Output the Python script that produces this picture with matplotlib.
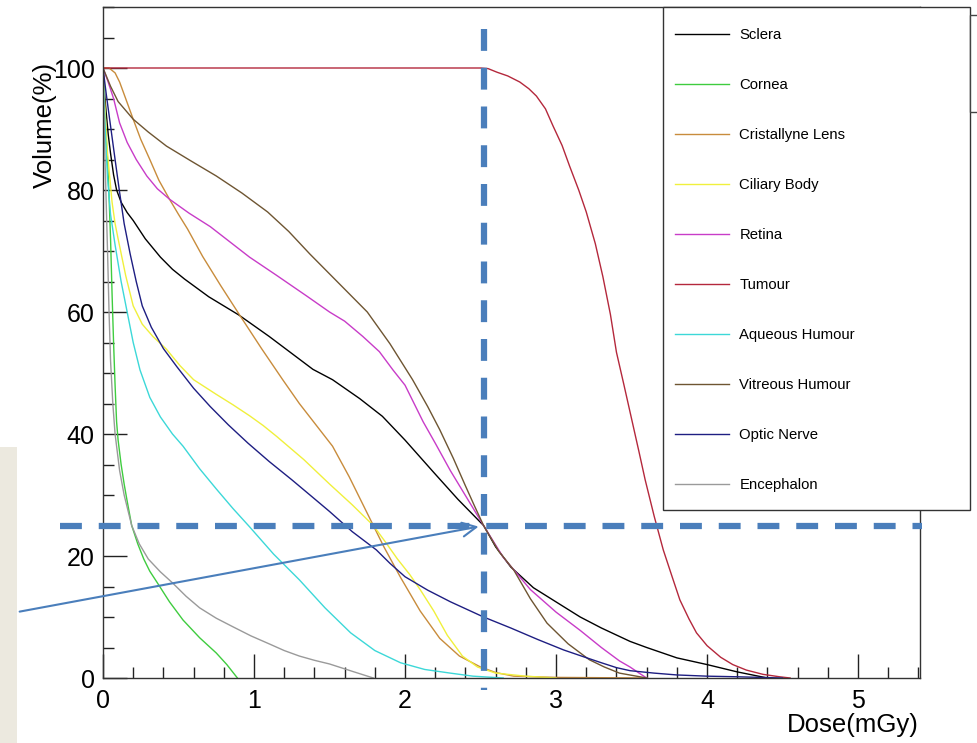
import numpy as np
import matplotlib.pyplot as plt
from matplotlib import ticker
from matplotlib.patches import Rectangle

plt.rcParams['font.family'] = ['Liberation Sans', 'DejaVu Sans']

# dose-volume histogram curves (dose in mGy, volume in %)
sclera_x = [0, 0.01, 0.02, 0.035, 0.05, 0.07, 0.09, 0.12, 0.16, 0.2, 0.28, 0.38, 0.46, 0.54, 0.7, 0.9,
            1.1, 1.39, 1.52, 1.7, 1.85, 2.0, 2.19, 2.35, 2.52, 2.6, 2.7, 2.85, 3.05, 3.16, 3.3, 3.49,
            3.6, 3.8, 4.0, 4.2, 4.4]
sclera_y = [100, 96, 93, 89, 86, 82.5, 80, 78, 76.3, 75, 72, 69, 67, 65.4, 62.5, 59.5,
            56, 50.6, 48.9, 45.8, 42.9, 39, 33.7, 29.3, 25, 21.5, 18.2, 14.8, 11.7, 10, 8.2, 6.0,
            5.0, 3.3, 2.2, 1.0, 0]

cornea_x = [0, 0.01, 0.02, 0.03, 0.04, 0.05, 0.06, 0.07, 0.08, 0.09, 0.1, 0.12, 0.14, 0.16, 0.19,
            0.23, 0.27, 0.31, 0.36, 0.44, 0.53, 0.64, 0.75, 0.82, 0.89]
cornea_y = [100, 93, 89, 85, 79, 72, 63, 55, 48, 42, 39, 35, 31.8, 29, 25,
            22, 19.5, 17.5, 15.6, 12.5, 9.5, 6.6, 4.1, 2.2, 0]

lens_x = [0, 0.04, 0.08, 0.11, 0.15, 0.2, 0.25, 0.31, 0.37, 0.44, 0.5, 0.56, 0.66, 0.78, 0.91,
          1.05, 1.19, 1.3, 1.41, 1.52, 1.63, 1.75, 1.86, 1.97, 2.1, 2.23, 2.36, 2.5, 2.6, 2.72,
          3.0, 3.6]
lens_y = [100, 100, 99.2, 97.7, 95, 91.6, 88.3, 85, 81.6, 78.5, 76, 73.6, 69.1, 64.3, 59.3,
          54, 48.9, 45, 41.5, 38, 33, 27, 21.5, 16.5, 11, 6.5, 3.6, 1.8, 0.9, 0.3,
          0.1, 0]

ciliary_x = [0, 0.01, 0.02, 0.03, 0.045, 0.06, 0.08, 0.1, 0.15, 0.2, 0.26, 0.33, 0.42, 0.51, 0.6,
             0.75, 0.86, 0.97, 1.06, 1.15, 1.33, 1.5, 1.65, 1.79, 1.87, 1.95, 2.03, 2.1, 2.19,
             2.28, 2.38, 2.48, 2.6, 2.8, 3.0]
ciliary_y = [100, 95, 90, 86, 82, 78, 74.5, 72, 66, 61, 58, 56, 53.9, 51.2, 48.9,
             46.5, 44.8, 43, 41.4, 39.6, 35.8, 31.8, 28.4, 25, 22.3, 19.5, 17, 14.5, 11,
             7, 3.6, 1.8, 0.8, 0.3, 0]

retina_x = [0, 0.03, 0.07, 0.11, 0.16, 0.22, 0.29, 0.36, 0.44, 0.57, 0.71, 0.84, 0.97, 1.15, 1.35,
            1.5, 1.6, 1.72, 1.83, 1.92, 2.0, 2.12, 2.2, 2.3, 2.41, 2.52, 2.65, 2.83, 3.0, 3.16,
            3.3, 3.42, 3.49, 3.55, 3.6]
retina_y = [100, 98, 95, 91, 87.8, 85, 82.3, 80.2, 78.5, 76.2, 74, 71.5, 69, 66, 62.6,
            60, 58.5, 56, 53.5, 50.5, 48, 42, 38.5, 34, 29.5, 25, 19.8, 14.5, 10.8, 7.8,
            5, 2.8, 1.8, 0.8, 0]

tumour_x = [0, 2.5, 2.55, 2.61, 2.68, 2.76, 2.82, 2.87, 2.93, 2.98, 3.04, 3.09, 3.15, 3.2, 3.26,
            3.31, 3.36, 3.4, 3.45, 3.5, 3.55, 3.59, 3.65, 3.71, 3.77, 3.82, 3.88, 3.93, 4.0, 4.09,
            4.17, 4.26, 4.37, 4.48, 4.55]
tumour_y = [100, 100, 99.9, 99.3, 98.7, 97.7, 96.6, 95.4, 93.3, 90.5, 87.3, 83.9, 80, 76.4, 71.2,
            65.8, 59.6, 53.4, 48, 42.5, 37, 32.5, 26.5, 21, 16.5, 12.8, 9.7, 7.4, 5.3, 3.4,
            2.2, 1.3, 0.6, 0.2, 0]

aqueous_x = [0, 0.01, 0.02, 0.03, 0.05, 0.08, 0.12, 0.16, 0.2, 0.245, 0.31, 0.38, 0.46, 0.53, 0.64,
             0.75, 0.86, 0.97, 1.13, 1.3, 1.47, 1.64, 1.8, 1.97, 2.13, 2.3, 2.45, 2.65]
aqueous_y = [100, 93, 87, 82, 76, 71, 65, 60, 55, 50.5, 46, 42.8, 40, 38, 34.3,
             31, 27.8, 24.8, 20.3, 16.1, 11.5, 7.4, 4.5, 2.5, 1.4, 0.8, 0.3, 0]

vitreous_x = [0, 0.05, 0.1, 0.2, 0.3, 0.42, 0.58, 0.75, 0.92, 1.09, 1.23, 1.37, 1.55, 1.75, 1.9,
              2.05, 2.15, 2.23, 2.32, 2.4, 2.46, 2.52, 2.62, 2.72, 2.83, 2.94, 3.08, 3.22, 3.32,
              3.42, 3.6]
vitreous_y = [100, 97, 94.5, 91.6, 89.5, 87.2, 84.8, 82.3, 79.5, 76.4, 73.2, 69.5, 65, 60, 54.8,
              48.9, 44.5, 40.7, 36, 31.5, 28.2, 25, 20.8, 17.7, 13, 9, 5.6, 3, 1.8,
              0.8, 0]

optic_x = [0, 0.02, 0.05, 0.08, 0.11, 0.14, 0.18, 0.22, 0.26, 0.32, 0.4, 0.49, 0.6, 0.71, 0.83,
           0.96, 1.1, 1.25, 1.38, 1.5, 1.65, 1.81, 1.9, 2.0, 2.15, 2.3, 2.52, 2.7, 2.88, 3.05,
           3.18, 3.3, 3.4, 3.49, 3.65, 3.8, 4.0, 4.2, 4.5]
optic_y = [100, 96, 90.5, 85, 79.6, 74.5, 69.5, 65, 61, 57.5, 54, 51, 47.5, 44.5, 41.5,
           38.5, 35.5, 32.5, 29.8, 27.3, 24, 21, 18.8, 16.6, 14.4, 12.5, 10, 8.2, 6.3, 4.6,
           3.5, 2.5, 1.7, 1.2, 0.8, 0.5, 0.3, 0.2, 0]

enceph_x = [0, 0.01, 0.02, 0.03, 0.04, 0.05, 0.065, 0.08, 0.11, 0.14, 0.19, 0.24, 0.3, 0.38, 0.46,
            0.55, 0.64, 0.75, 0.86, 0.98, 1.1, 1.2, 1.3, 1.4, 1.5, 1.65, 1.79]
enceph_y = [100, 88, 79, 70, 60, 52, 45, 40, 34, 30, 25, 22, 19.5, 17.4, 15.6,
            13.4, 11.5, 9.8, 8.4, 6.9, 5.6, 4.5, 3.6, 2.9, 2.3, 1.1, 0]

labels = ['Sclera', 'Cornea', 'Cristallyne Lens', 'Ciliary Body', 'Retina', 'Tumour',
          'Aqueous Humour', 'Vitreous Humour', 'Optic Nerve', 'Encephalon']
colors = ['#000000', '#3fcc3f', '#c88c3c', '#f0f03c', '#c83cc8', '#b4283c',
          '#3cd8d8', '#6e5532', '#1e1e82', '#9a9a9a']
curves = [(sclera_x, sclera_y), (cornea_x, cornea_y), (lens_x, lens_y), (ciliary_x, ciliary_y),
          (retina_x, retina_y), (tumour_x, tumour_y), (aqueous_x, aqueous_y),
          (vitreous_x, vitreous_y), (optic_x, optic_y), (enceph_x, enceph_y)]

# marked point (dashed guides)
mark_dose = 2.52
mark_vol = 25

fig = plt.figure(figsize=(9.77, 7.43), dpi=100)
ax = fig.add_axes([103/977, 1-678/743, 817/977, 671/743])

for (x, y), lab, c in zip(curves, labels, colors):
    ax.plot(x, y, color=c, lw=1.0, label=lab)

ax.set_xlim(0, 5.41)
ax.set_ylim(0, 110)

ax.xaxis.set_major_locator(ticker.MultipleLocator(1))
ax.xaxis.set_minor_locator(ticker.MultipleLocator(0.2))
ax.yaxis.set_major_locator(ticker.FixedLocator([0, 20, 40, 60, 80, 100]))
ax.yaxis.set_minor_locator(ticker.MultipleLocator(5))
ax.tick_params(which='both', direction='in', top=False, right=False, labelsize=18, color='#222222')
ax.tick_params(which='major', length=17, width=1)
ax.tick_params(which='minor', length=8, width=1)
ax.tick_params(axis='x', pad=8)
ax.tick_params(axis='y', pad=6)
for s in ax.spines.values():
    s.set_color('#333333')
    s.set_linewidth(1)

ax.text(-0.071, 0.918, 'Volume(%)', rotation=90, ha='center', va='top',
        fontsize=18.5, transform=ax.transAxes)
ax.text(0.998, -0.07, 'Dose(mGy)', ha='right', va='center', fontsize=18.5,
        transform=ax.transAxes)

# partial stats box cut at the right edge
fig.add_artist(Rectangle((970/977, 1-112/743), 0.05, 97/743, transform=fig.transFigure,
                         fill=True, facecolor='white', edgecolor='#444444', lw=1, zorder=5))

# legend box
ax.add_patch(Rectangle((663/977, 1-510/743), 307/977, 503/743, transform=fig.transFigure,
                       facecolor='white', edgecolor='#333333', lw=1, clip_on=False, zorder=9))
leg = ax.legend(loc='upper left', bbox_to_anchor=(656/977, 1-9/743),
                bbox_transform=fig.transFigure, borderaxespad=0, frameon=False,
                fontsize=10.7, labelspacing=2.42, borderpad=1.3, handlelength=3.64,
                handletextpad=0.67)
leg.set_zorder(10)

# overlays: guide lines, arrow, side panel
blue = '#4a7ebb'
ax.plot([mark_dose, mark_dose], [106.4, -2.0], color=blue, lw=4.5, dashes=(3.5, 2.7),
        clip_on=False, zorder=20)
ax.plot([-0.285, 5.42], [mark_vol, mark_vol], color=blue, lw=4.5, dashes=(3.5, 2.7),
        clip_on=False, zorder=20)
ax.annotate('', xy=(2.505, 24.9), xytext=(-0.57, 10.8), annotation_clip=False,
            arrowprops=dict(arrowstyle='->', color=blue, lw=1.5, mutation_scale=25),
            zorder=21)
fig.add_artist(Rectangle((0, 0), 17/977, 1-447/743, transform=fig.transFigure,
                         facecolor='#ece9df', edgecolor='none', zorder=22))

fig.savefig('out.png', dpi=100)
